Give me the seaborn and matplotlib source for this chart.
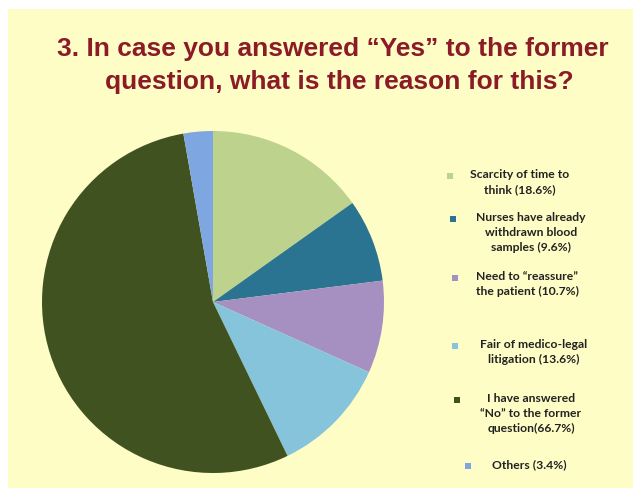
import matplotlib
matplotlib.use("Agg")
import matplotlib.pyplot as plt
import seaborn as sns
from matplotlib.patches import Rectangle

# Data
labels = [
    "Scarcity of time to\nthink (18.6%)",
    "Nurses have already\nwithdrawn blood\nsamples (9.6%)",
    "Need to \u201creassure\u201d\nthe patient (10.7%)",
    "Fair of medico-legal\nlitigation (13.6%)",
    "I have answered\n\u201cNo\u201d to the former\nquestion(66.7%)",
    "Others (3.4%)",
]
values = [18.6, 9.6, 10.7, 13.6, 66.7, 3.4]
colors = ["#bdd28c", "#2a7391", "#a690c2", "#86c4db", "#415221", "#7ea6e0"]

sns.set_theme(style="white")
plt.rcParams["font.family"] = ["Liberation Sans", "DejaVu Sans"]

W, H = 633, 488
fig = plt.figure(figsize=(W / 100, H / 100), dpi=100)
fig.patch.set_facecolor("white")

# yellow slide background
bg = "#fffdc6"
fig.patches.append(Rectangle((8 / W, 0), 1 - 8 / W, 1 - 9 / H,
                             transform=fig.transFigure, facecolor=bg,
                             edgecolor="none", zorder=-5))

# Title
title_color = "#8a1b27"
fig.text(333 / W, 1 - 56 / H, "3. In case you answered \u201cYes\u201d to the former",
         ha="center", va="baseline", fontsize=19, fontweight="bold", color=title_color)
fig.text(339 / W, 1 - 89 / H, "question, what is the reason for this?",
         ha="center", va="baseline", fontsize=19, fontweight="bold", color=title_color)

# Pie
cx, cy, r = 213, 302, 171
ax = fig.add_axes([(cx - r) / W, (H - cy - r) / H, 2 * r / W, 2 * r / H])
ax.pie(values, colors=sns.color_palette(colors), startangle=90, counterclock=False,
       wedgeprops=dict(linewidth=0))
ax.set_xlim(-1, 1)
ax.set_ylim(-1, 1)
ax.set_aspect("equal")
ax.axis("off")

# Legend (manual layout to mimic slide)
leg_y = [176, 219, 278, 346, 400, 466]
mark_x = [450, 453, 455, 455, 457, 468]
text_cx = [520, 531, 527, 534, 531, 529]
ms = 6
for lab, col, y, mx, tx in zip(labels, colors, leg_y, mark_x, text_cx):
    fig.patches.append(Rectangle(((mx - ms / 2) / W, 1 - (y + ms / 2) / H), ms / W, ms / H,
                                 transform=fig.transFigure, facecolor=col,
                                 edgecolor="none", zorder=3))
    fig.text(tx / W, 1 - (y - 7) / H, lab, ha="center", va="top", multialignment="center",
             fontsize=8.7, fontweight="bold", color="#222222", family=["Lato", "DejaVu Sans"],
             linespacing=1.45)

fig.savefig("out.png", dpi=100, facecolor=fig.get_facecolor())
